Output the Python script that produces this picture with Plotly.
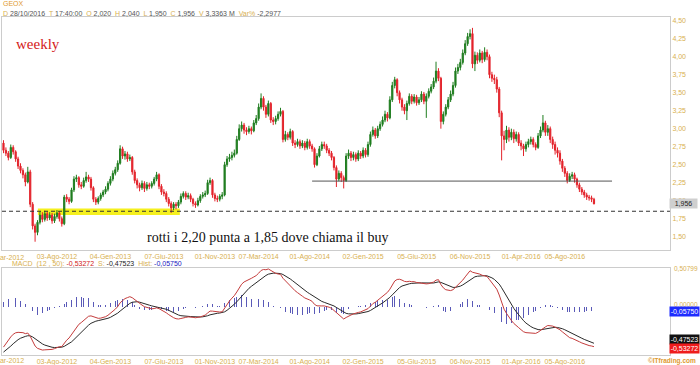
import plotly.graph_objects as go
import pandas as pd

# ---------------- DATA ----------------
first_week = "2012-03-02"

open_ = [
2.80,2.70,2.66,2.60,2.74,2.68,2.58,2.48,2.42,2.36,
2.26,2.40,1.95,1.65,1.56,1.70,1.80,1.74,1.82,1.76,
1.80,1.72,1.78,1.83,1.75,1.68,2.05,2.02,1.99,2.15,
2.30,2.32,2.22,2.20,2.28,2.33,2.30,2.18,2.02,1.98,
2.03,2.08,2.12,2.16,2.24,2.30,2.38,2.43,2.52,2.72,
2.62,2.65,2.58,2.60,2.40,2.28,2.22,2.18,2.24,2.17,
2.22,2.20,2.24,2.30,2.36,2.20,2.12,2.10,2.02,1.96,
1.90,1.95,1.93,1.98,2.06,2.10,2.05,2.07,2.02,1.96,
1.94,2.00,2.06,2.08,2.10,2.25,2.28,2.08,2.03,2.02,
2.06,2.08,2.50,2.58,2.60,2.63,2.66,2.85,3.00,3.05,
2.98,2.96,3.00,2.97,3.08,3.14,3.30,3.42,3.30,3.20,
3.35,3.12,3.10,3.14,3.20,3.24,2.85,2.92,2.88,2.96,
2.80,2.78,2.82,2.76,2.80,2.74,2.82,2.76,2.72,2.50,
2.62,2.72,2.78,2.76,2.70,2.66,2.60,2.46,2.30,2.38,
2.32,2.28,2.62,2.66,2.60,2.64,2.58,2.66,2.62,2.70,
2.64,2.78,2.92,2.98,2.90,3.00,3.06,3.12,3.20,3.15,
3.40,3.60,3.68,3.50,3.40,3.30,3.25,3.35,3.45,3.38,
3.44,3.36,3.40,3.48,3.38,3.45,3.52,3.58,3.66,3.80,
3.70,3.10,3.20,3.30,3.40,3.48,3.60,3.80,3.85,3.92,
4.05,4.18,4.28,4.32,3.90,4.02,3.95,4.05,3.96,4.06,
4.00,3.75,3.70,3.68,3.55,3.22,2.90,2.85,2.98,2.88,
2.95,2.86,2.92,2.80,2.76,2.72,2.78,2.82,2.85,2.78,
2.74,2.90,2.98,3.08,2.95,3.00,2.85,2.78,2.70,2.66,
2.55,2.45,2.38,2.28,2.34,2.36,2.30,2.22,2.16,2.12,
2.08,2.05,2.04,2.020]

high = [
2.84,2.74,2.69,2.78,2.77,2.70,2.61,2.52,2.45,2.39,
2.47,2.43,1.98,1.68,1.73,1.85,1.84,1.86,1.85,1.84,
1.83,1.82,1.87,1.85,1.78,2.08,2.09,2.05,2.18,2.34,
2.36,2.34,2.26,2.32,2.40,2.36,2.33,2.20,2.05,2.06,
2.11,2.15,2.20,2.27,2.34,2.42,2.47,2.56,2.77,2.75,
2.69,2.68,2.64,2.62,2.43,2.31,2.25,2.28,2.27,2.26,
2.25,2.27,2.33,2.40,2.38,2.23,2.16,2.13,2.05,1.99,
1.98,1.98,2.01,2.10,2.13,2.13,2.11,2.10,2.04,1.99,
2.04,2.09,2.12,2.14,2.29,2.32,2.30,2.11,2.07,2.09,
2.12,2.54,2.62,2.65,2.68,2.71,2.90,3.06,3.10,3.08,
3.02,3.04,3.03,3.12,3.19,3.35,3.49,3.45,3.33,3.39,
3.37,3.16,3.18,3.24,3.29,3.26,2.97,2.95,3.00,2.98,
2.84,2.86,2.85,2.84,2.83,2.86,2.85,2.79,2.74,2.66,
2.76,2.82,2.82,2.79,2.73,2.69,2.62,2.49,2.42,2.41,
2.35,2.66,2.71,2.69,2.68,2.67,2.70,2.69,2.74,2.73,
2.82,2.96,3.03,3.01,3.04,3.10,3.17,3.25,3.23,3.45,
3.65,3.72,3.70,3.53,3.43,3.34,3.39,3.49,3.48,3.48,
3.47,3.44,3.52,3.51,3.49,3.56,3.62,3.71,3.93,3.84,
3.72,3.24,3.34,3.44,3.53,3.65,3.85,3.90,3.97,4.10,
4.23,4.33,4.38,4.40,4.07,4.06,4.10,4.08,4.13,4.10,
4.03,3.79,3.75,3.72,3.58,3.25,2.97,3.04,3.02,3.00,
2.99,2.96,2.95,2.84,2.79,2.82,2.86,2.89,2.88,2.81,
2.94,3.03,3.19,3.11,3.05,3.03,2.89,2.82,2.74,2.70,
2.58,2.48,2.41,2.38,2.40,2.39,2.32,2.25,2.19,2.15,
2.11,2.08,2.07,2.040]

low = [
2.66,2.62,2.56,2.58,2.64,2.54,2.44,2.38,2.31,2.20,
2.24,1.91,1.60,1.43,1.52,1.67,1.70,1.71,1.72,1.73,
1.68,1.69,1.75,1.71,1.64,1.66,1.98,1.95,1.97,2.12,
2.26,2.18,2.16,2.18,2.25,2.26,2.14,1.98,1.94,1.95,
2.00,2.05,2.09,2.13,2.21,2.27,2.35,2.40,2.50,2.58,
2.57,2.54,2.55,2.36,2.24,2.17,2.13,2.15,2.12,2.14,
2.16,2.17,2.21,2.27,2.16,2.08,2.06,1.98,1.92,1.83,
1.87,1.88,1.90,1.95,2.03,2.01,2.02,1.98,1.92,1.90,
1.92,1.97,2.03,2.05,2.08,2.22,2.04,1.99,1.98,1.99,
2.02,2.06,2.47,2.54,2.56,2.60,2.64,2.83,2.96,2.93,
2.91,2.93,2.92,2.95,3.05,3.11,3.27,3.25,3.15,3.17,
3.08,3.05,3.06,3.11,3.17,2.81,2.82,2.84,2.85,2.76,
2.73,2.75,2.72,2.73,2.70,2.71,2.72,2.68,2.46,2.48,
2.60,2.69,2.72,2.66,2.62,2.56,2.42,2.19,2.27,2.26,
2.17,2.26,2.58,2.55,2.56,2.54,2.55,2.58,2.59,2.60,
2.61,2.75,2.89,2.86,2.87,2.97,3.03,3.09,3.10,3.13,
3.37,3.56,3.45,3.35,3.25,3.20,3.12,3.32,3.34,3.35,
3.32,3.33,3.37,3.34,3.15,3.42,3.49,3.55,3.63,3.66,
3.00,3.06,3.17,3.27,3.37,3.45,3.57,3.76,3.81,3.89,
4.02,4.15,4.24,3.84,3.80,3.90,3.92,3.91,3.93,3.95,
3.70,3.65,3.62,3.50,3.16,2.56,2.70,2.80,2.82,2.84,
2.80,2.82,2.76,2.70,2.62,2.68,2.74,2.78,2.74,2.70,
2.72,2.87,2.95,2.90,2.90,2.80,2.72,2.64,2.60,2.50,
2.40,2.33,2.24,2.26,2.30,2.25,2.18,2.12,2.08,2.04,
2.01,2.00,1.98,1.950]

close = [
2.70,2.66,2.60,2.74,2.68,2.58,2.48,2.42,2.36,2.26,
2.40,1.95,1.65,1.56,1.70,1.80,1.74,1.82,1.76,1.80,
1.72,1.78,1.83,1.75,1.68,2.05,2.02,1.99,2.15,2.30,
2.32,2.22,2.20,2.28,2.33,2.30,2.18,2.02,1.98,2.03,
2.08,2.12,2.16,2.24,2.30,2.38,2.43,2.52,2.72,2.62,
2.65,2.58,2.60,2.40,2.28,2.22,2.18,2.24,2.17,2.22,
2.20,2.24,2.30,2.36,2.20,2.12,2.10,2.02,1.96,1.90,
1.95,1.93,1.98,2.06,2.10,2.05,2.07,2.02,1.96,1.94,
2.00,2.06,2.08,2.10,2.25,2.28,2.08,2.03,2.02,2.06,
2.08,2.50,2.58,2.60,2.63,2.66,2.85,3.00,3.05,2.98,
2.96,3.00,2.97,3.08,3.14,3.30,3.42,3.30,3.20,3.35,
3.12,3.10,3.14,3.20,3.24,2.85,2.92,2.88,2.96,2.80,
2.78,2.82,2.76,2.80,2.74,2.82,2.76,2.72,2.50,2.62,
2.72,2.78,2.76,2.70,2.66,2.60,2.46,2.30,2.38,2.32,
2.28,2.62,2.66,2.60,2.64,2.58,2.66,2.62,2.70,2.64,
2.78,2.92,2.98,2.90,3.00,3.06,3.12,3.20,3.15,3.40,
3.60,3.68,3.50,3.40,3.30,3.25,3.35,3.45,3.38,3.44,
3.36,3.40,3.48,3.38,3.45,3.52,3.58,3.66,3.80,3.70,
3.10,3.20,3.30,3.40,3.48,3.60,3.80,3.85,3.92,4.05,
4.18,4.28,4.32,3.90,4.02,3.95,4.05,3.96,4.06,4.00,
3.75,3.70,3.68,3.55,3.22,2.90,2.85,2.98,2.88,2.95,
2.86,2.92,2.80,2.76,2.72,2.78,2.82,2.85,2.78,2.74,
2.90,2.98,3.08,2.95,3.00,2.85,2.78,2.70,2.66,2.55,
2.45,2.38,2.28,2.34,2.36,2.30,2.22,2.16,2.12,2.08,
2.05,2.04,2.02,1.956]

assert len(open_) == len(high) == len(low) == len(close) == 244

# MACD parameters and EMA values carried in from before the first week shown
macd_fast, macd_slow, macd_signal = 12, 50, 9
ema_fast_prior, ema_slow_prior, signal_prior = 2.35, 2.95, -0.62

tick_dates = ["2012-03-02", "2012-08-03", "2013-01-04", "2013-06-07", "2013-11-01",
              "2014-03-07", "2014-08-01", "2015-01-02", "2015-06-05", "2015-11-06",
              "2016-04-01", "2016-08-05"]
tick_labels = ["02-Mar-2012", "03-Ago-2012", "04-Gen-2013", "07-Giu-2013", "01-Nov-2013",
               "07-Mar-2014", "01-Ago-2014", "02-Gen-2015", "05-Giu-2015", "06-Nov-2015",
               "01-Apr-2016", "05-Ago-2016"]
price_ticks = [1.50, 1.75, 2.00, 2.25, 2.50, 2.75, 3.00, 3.25, 3.50, 3.75, 4.00, 4.25, 4.50]

# ---------------- DERIVED ----------------
dates = pd.date_range(first_week, periods=len(close), freq="7D")


def ema(values, n, prior):
    a = 2.0 / (n + 1)
    out, prev = [], prior
    for v in values:
        prev = a * v + (1 - a) * prev
        out.append(prev)
    return out


ef = ema(close, macd_fast, ema_fast_prior)
es = ema(close, macd_slow, ema_slow_prior)
macd = [f - s for f, s in zip(ef, es)]
signal = ema(macd, macd_signal, signal_prior)
hist = [m - s for m, s in zip(macd, signal)]

# ---------------- FIGURE ----------------
W, H = 700, 365
YEL = "#d8b050"
GRY = "#555555"
FONT = "Liberation Sans, Arial, sans-serif"
SERIF = "Liberation Serif, Times New Roman, serif"


def px(x):
    return x / W


def py(y):
    return 1 - y / H


fig = go.Figure()
fig.add_trace(go.Candlestick(
    x=dates, open=open_, high=high, low=low, close=close,
    increasing=dict(line=dict(color="#1f7d1f", width=1), fillcolor="#1f7d1f"),
    decreasing=dict(line=dict(color="#e3232b", width=1), fillcolor="#e3232b"),
    whiskerwidth=0, xaxis="x", yaxis="y", showlegend=False, hoverinfo="skip"))

fig.add_trace(go.Bar(x=dates, y=hist, width=1.6 * 86400000,
                     marker=dict(color="#5a5ab8", line=dict(width=0)),
                     xaxis="x2", yaxis="y2", showlegend=False, hoverinfo="skip"))
fig.add_trace(go.Scatter(x=dates, y=signal, mode="lines", line=dict(color="#2a2a2a", width=1),
                         xaxis="x2", yaxis="y2", showlegend=False, hoverinfo="skip"))
fig.add_trace(go.Scatter(x=dates, y=macd, mode="lines", line=dict(color="#c43c3c", width=1),
                         xaxis="x2", yaxis="y2", showlegend=False, hoverinfo="skip"))

x_range = ["2012-02-26 16:48", "2017-06-04"]
axis_common = dict(showgrid=False, zeroline=False, showline=True, mirror=True,
                   linecolor="#cccccc", linewidth=1, ticks="")

fig.update_layout(
    width=W, height=H, margin=dict(l=0, r=0, t=0, b=0),
    paper_bgcolor="white", plot_bgcolor="white", separators=",.",
    showlegend=False, bargap=0,
    font=dict(family=FONT, size=7, color=YEL),
    xaxis=dict(domain=[px(2), px(670)], range=x_range, type="date", anchor="y",
               tickvals=tick_dates, ticktext=tick_labels, tickfont=dict(size=7, color=YEL),
               rangeslider=dict(visible=False), **axis_common),
    yaxis=dict(domain=[py(250), py(17)], range=[1.315, 4.551], side="right", anchor="x",
               tickvals=price_ticks, tickformat=".2f", tickfont=dict(size=7, color=YEL),
               **axis_common),
    xaxis2=dict(domain=[px(2), px(670)], range=x_range, type="date", anchor="y2",
                matches="x", tickvals=tick_dates, ticktext=tick_labels,
                tickfont=dict(size=7, color=YEL), **axis_common),
    yaxis2=dict(domain=[py(355), py(268)], range=[-0.642, 0.521], side="right", anchor="x2",
                showticklabels=False, **axis_common),
)

# shapes
fig.add_shape(type="rect", xref="x", yref="y", x0="2012-06-09", x1="2013-07-23",
              y0=1.80, y1=1.89, fillcolor="#f5f01e", line=dict(width=0), layer="below")
fig.add_shape(type="line", xref="paper", yref="y", x0=px(2), x1=px(670), y0=1.853, y1=1.853,
              line=dict(color="#333333", width=1, dash="4px,3px"))
fig.add_shape(type="line", xref="x", yref="y", x0="2014-08-08", x1="2016-12-19",
              y0=2.272, y1=2.272, line=dict(color="#555555", width=1))

# texts
sp = "&nbsp;"


def lab(t):
    return f"<span style='color:{YEL}'>{t}</span>"


def val(t, c=GRY):
    return f"<span style='color:{c}'>{t}</span>"


header = (lab("D") + " " + val("28/10/2016") + sp * 2 + lab("T") + " " + val("17:40:00") + sp * 2 +
          lab("O") + " " + val("2,020") + sp * 2 + lab("H") + " " + val("2,040") + sp * 2 +
          lab("L") + " " + val("1,950") + sp * 2 + lab("C") + " " + val("1,956") + sp * 2 +
          lab("V") + " " + val("3,3363 M") + sp * 2 + lab("Var%") + " " + val("-2,2977"))
macd_head = (lab("MACD") + sp * 2 + lab("(12 , 50):") + " " + val("-0,53272", "#d02020") + sp * 2 +
             lab("S:") + " " + val("-0,47523", "#222222") + sp * 2 + lab("Hist:") + " " +
             val("-0,05750", "#2020c0"))

ann = [
    dict(x=px(1), y=py(4), text="GEOX", font=dict(size=7, color="#e09a30")),
    dict(x=px(1), y=py(13.5), text=header, font=dict(size=7)),
    dict(x=px(14), y=py(44), text="weekly", font=dict(family=SERIF, size=15, color="#d42020")),
    dict(x=px(145), y=py(237), text="rotti i 2,20 punta a 1,85 dove chiama il buy",
         font=dict(family=SERIF, size=14, color="#111111")),
    dict(x=px(10), y=py(263.5), text=macd_head, font=dict(size=7)),
    dict(x=px(672), y=py(268), text="0,50799", font=dict(size=6.5, color=YEL)),
    dict(x=px(672), y=py(304), text="0,00000", font=dict(size=6.5, color=YEL)),
    dict(x=px(672), y=py(360.5), text="<b>©ITfrading.com</b>", font=dict(size=6.5, color="#e09a30"),
         xanchor="center"),
    # first date label, half cut by the left edge as in the original
    dict(x=px(3.5), y=py(257), text=tick_labels[0], font=dict(size=7, color=YEL), xanchor="center"),
    dict(x=px(3.5), y=py(360.5), text=tick_labels[0], font=dict(size=7, color=YEL), xanchor="center"),
]
for a in ann:
    a.setdefault("xanchor", "left")
    fig.add_annotation(xref="paper", yref="paper", yanchor="middle", showarrow=False, **a)

boxes = [
    (px(683.5), py(203.5), "1,956", "#cfcfcf", "#222222", 27),
    (px(684.5), py(311), "-0,05750", "#1e2cff", "white", 29),
    (px(684.5), py(339.5), "-0,47523", "#111111", "white", 29),
    (px(684.5), py(348), "-0,53272", "#ee1c1c", "white", 29),
]
for bx, by, t, bg, fc, w in boxes:
    fig.add_annotation(xref="paper", yref="paper", x=bx, y=by, text=t, showarrow=False,
                       xanchor="center", yanchor="middle", width=w, height=9, bgcolor=bg,
                       borderpad=0, font=dict(size=7, color=fc))

fig.write_html("out.html", config={"displayModeBar": False, "staticPlot": True},
               post_script="document.body.style.margin='0px';document.body.style.padding='0px';")
